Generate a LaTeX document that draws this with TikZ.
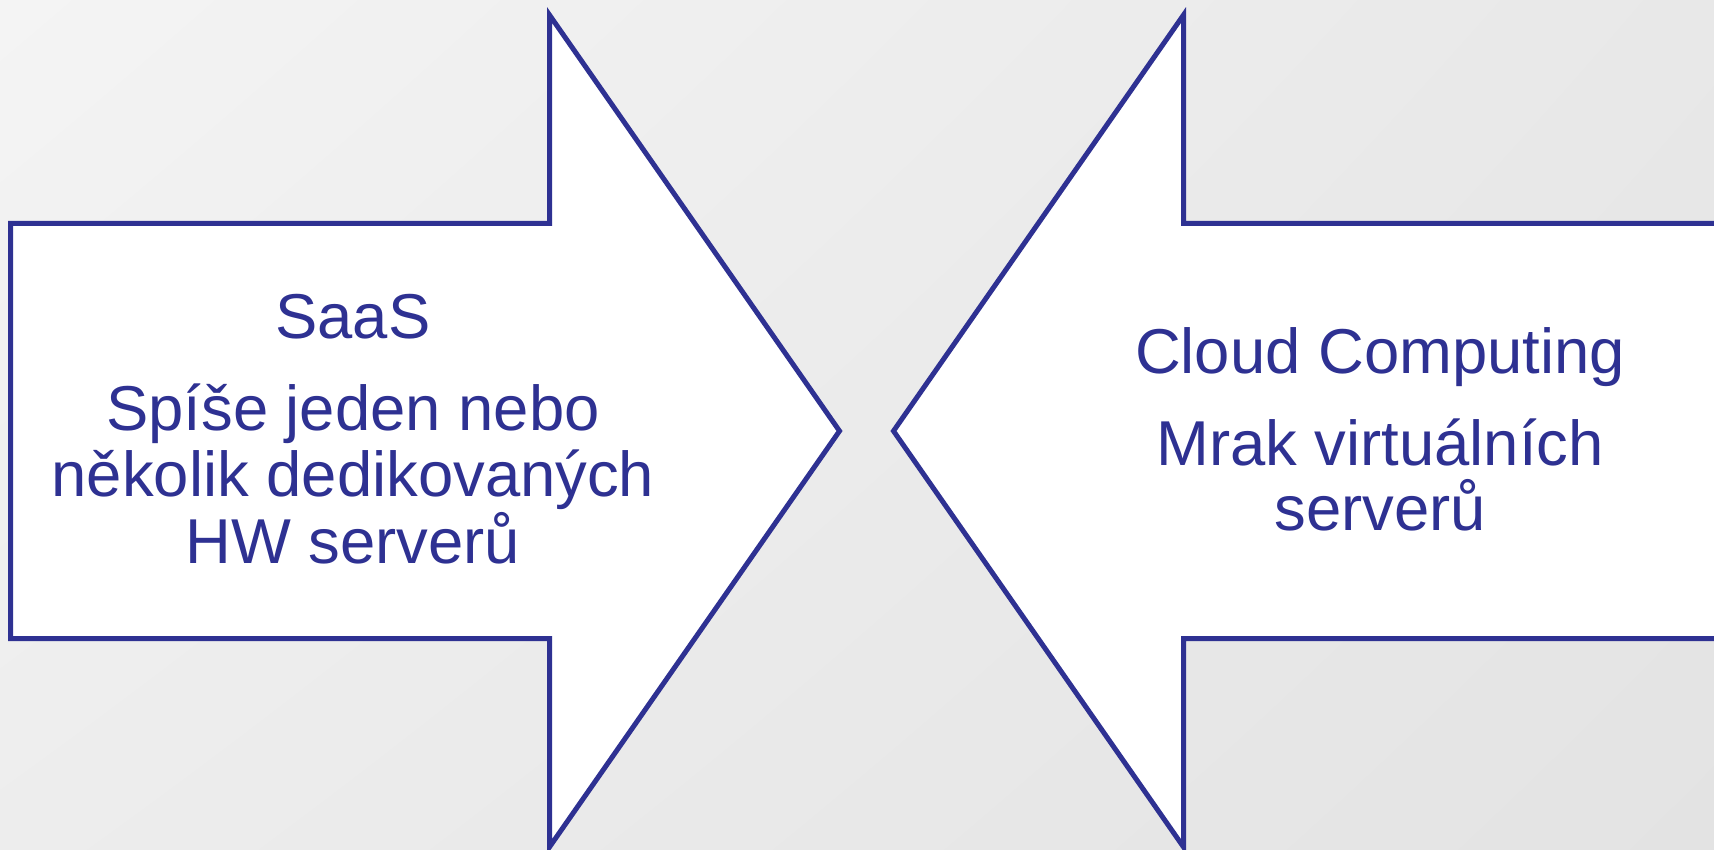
\documentclass[tikz,border=0pt]{standalone}
\usepackage{fontspec}
\setmainfont{Liberation Sans}
\usetikzlibrary{shadings}
\definecolor{navy}{HTML}{2E3192}
\definecolor{bgUL}{HTML}{F4F4F4}
\definecolor{bgUR}{HTML}{E8E8E8}
\definecolor{bgLL}{HTML}{EDEDED}
\definecolor{bgLR}{HTML}{E3E3E3}
\begin{document}
\begin{tikzpicture}[x=0.5pt,y=-0.5pt,
  arrowshape/.style={draw=navy, fill=white, line width=2.5pt, line join=miter},
  lbl/.style={text=navy, align=center, inner sep=0pt},
  lblL/.style={lbl, font=\fontsize{31.7}{33.25}\selectfont},
  lblR/.style={lbl, font=\fontsize{31.7}{32.5}\selectfont}]
\useasboundingbox (0,0) rectangle (1714,850);
\shade[upper left=bgUL, upper right=bgUR, lower left=bgLL, lower right=bgLR] (0,0) rectangle (1714,850);
\clip (0,0) rectangle (1714,850);
% left arrow (pointing right)
\draw[arrowshape] (10.5,223.5) -- (549.5,223.5) -- (549.5,15) -- (839.5,431) -- (549.5,847) -- (549.5,638.5) -- (10.5,638.5) -- cycle;
% right arrow (pointing left)
\draw[arrowshape] (1725,223.5) -- (1183.5,223.5) -- (1183.5,15) -- (893.5,431) -- (1183.5,847) -- (1183.5,638.5) -- (1725,638.5) -- cycle;
% texts (base anchor = baseline of the last line)
\node[lblL, anchor=base] (saas) at (353,339) {SaaS};
\node[lblL, anchor=base] (saasd) at (353,563) {Spíše jeden nebo\\několik dedikovaných\\HW serverů};
\node[lblR, anchor=base] (cloud) at (1380,373) {Cloud Computing};
\node[lblR, anchor=base] (cloudd) at (1380,530) {Mrak virtuálních\\serverů};
\end{tikzpicture}
\end{document}
